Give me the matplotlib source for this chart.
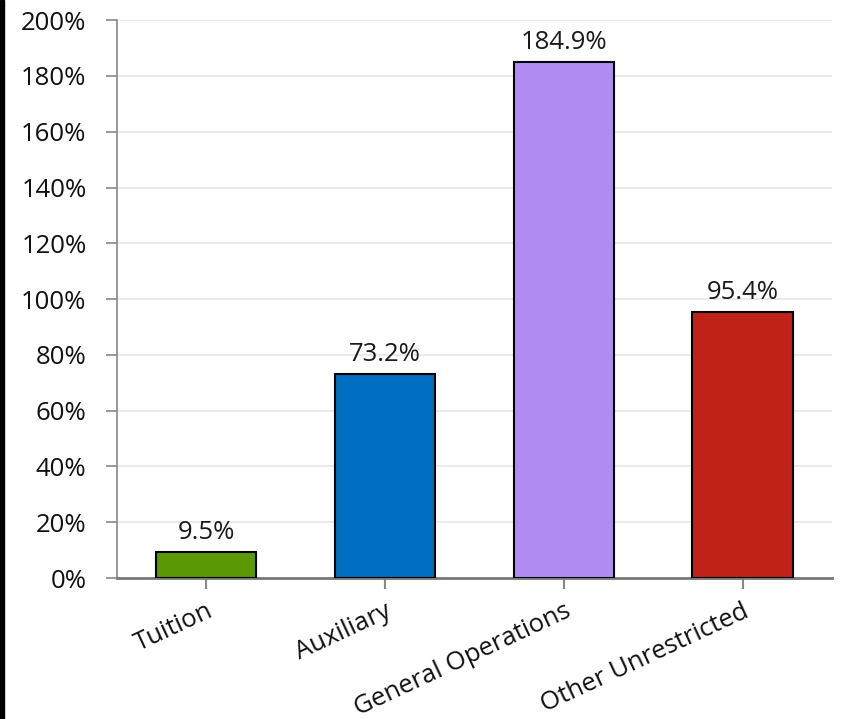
import matplotlib.pyplot as plt
from matplotlib.patches import Rectangle
from matplotlib.ticker import FuncFormatter
from matplotlib.transforms import ScaledTranslation

categories = ['Tuition', 'Auxiliary', 'General Operations', 'Other Unrestricted']
values = [9.5, 73.2, 184.9, 95.4]
colors = ['#5a9806', '#006fc2', '#b18cf2', '#c0221a']

plt.rcParams['font.family'] = ['Open Sans', 'DejaVu Sans']
plt.rcParams['font.size'] = 18.5

fig = plt.figure(figsize=(8.48, 7.19), dpi=100)
ax = fig.add_axes([0.138, 0.196, 0.843, 0.776])

x = range(len(categories))
ax.bar(x, values, width=0.56, color=colors, edgecolor='black', linewidth=1.5, zorder=3)

# value labels above each bar
for i, v in zip(x, values):
    ax.annotate(f'{v}%', (i, v), xytext=(0, 5), textcoords='offset points',
                ha='center', va='bottom', color='#1a1a1a')

ax.set_xlim(-0.5, 3.5)
ax.set_ylim(0, 200)
ax.set_yticks(range(0, 201, 20))
ax.yaxis.set_major_formatter(FuncFormatter(lambda v, p: f'{v:.0f}%'))
ax.grid(axis='y', color='#e6e6e6', linewidth=1.2, zorder=0)

ax.set_xticks(list(x))
ax.set_xticklabels(categories, rotation=25, ha='right', rotation_mode='anchor')
# nudge the slanted labels a little to the left
shift = ScaledTranslation(-6 / 72, 0, fig.dpi_scale_trans)
for lbl in ax.get_xticklabels():
    lbl.set_transform(lbl.get_transform() + shift)

for s in ['top', 'right']:
    ax.spines[s].set_visible(False)
ax.spines['left'].set_color('#888888')
ax.spines['left'].set_linewidth(1.2)
ax.spines['bottom'].set_color('#777777')
ax.spines['bottom'].set_linewidth(2)
ax.tick_params(axis='y', length=8, width=1.2, color='#888888', pad=14, labelcolor='#111111')
ax.tick_params(axis='x', length=8, width=1.5, color='#888888', pad=7, labelcolor='#111111')

# dark rule along the left edge
fig.add_artist(Rectangle((0, 0), 4 / 848, 1, transform=fig.transFigure,
                         color='black', zorder=10))

fig.savefig('out.png', dpi=100)
